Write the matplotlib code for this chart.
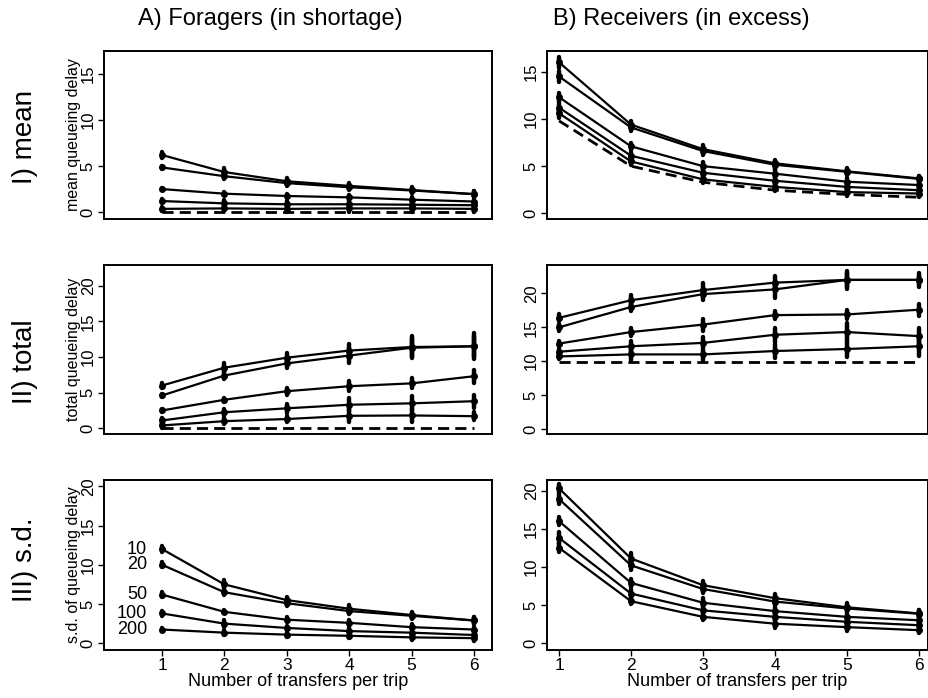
import matplotlib
matplotlib.use('Agg')
import matplotlib.pyplot as plt
import numpy as np

plt.rcParams['font.family'] = ['Liberation Sans', 'DejaVu Sans']

# transfers per trip and group sizes
transfers = [1, 2, 3, 4, 5, 6]
groups = ['10', '20', '50', '100', '200']

# A) foragers
fora_mean = [[6.2, 4.35, 3.35, 2.85, 2.4, 1.95],
             [4.85, 3.9, 3.15, 2.7, 2.35, 1.95],
             [2.5, 2.0, 1.75, 1.6, 1.35, 1.15],
             [1.2, 0.95, 0.85, 0.85, 0.8, 0.75],
             [0.35, 0.4, 0.35, 0.4, 0.4, 0.35]]
fora_mean_base = [0.05, 0.05, 0.05, 0.05, 0.05, 0.05]
fora_mean_rng = [[0.3, 0.4, 0.35, 0.35, 0.35, 0.35],
                 [0.15, 0.3, 0.3, 0.3, 0.3, 0.3],
                 [0.15, 0.15, 0.25, 0.3, 0.3, 0.3],
                 [0.2, 0.35, 0.4, 0.5, 0.5, 0.4],
                 [0.25, 0.3, 0.35, 0.4, 0.4, 0.3]]

fora_total = [[6.0, 8.5, 9.9, 10.9, 11.4, 11.5],
              [4.6, 7.4, 9.1, 10.2, 11.3, 11.5],
              [2.5, 4.0, 5.2, 5.9, 6.3, 7.3],
              [1.1, 2.25, 2.8, 3.3, 3.5, 3.8],
              [0.4, 1.0, 1.3, 1.75, 1.8, 1.7]]
fora_total_base = [0.1, 0.1, 0.1, 0.1, 0.1, 0.1]
fora_total_rng = [[0.3, 0.6, 0.7, 0.9, 1.6, 1.8],
                  [0.2, 0.5, 0.7, 1.0, 1.3, 1.5],
                  [0.2, 0.3, 0.5, 0.7, 0.7, 0.9],
                  [0.3, 0.5, 0.6, 0.9, 1.0, 0.9],
                  [0.3, 0.4, 0.4, 0.9, 0.9, 0.6]]

fora_sd = [[12.0, 7.5, 5.5, 4.4, 3.6, 2.9],
           [10.0, 6.5, 5.1, 4.1, 3.5, 2.9],
           [6.2, 4.0, 3.0, 2.6, 2.05, 1.75],
           [3.8, 2.5, 1.95, 1.55, 1.35, 1.05],
           [1.75, 1.35, 1.1, 0.95, 0.75, 0.65]]
fora_sd_rng = [[0.4, 0.5, 0.4, 0.5, 0.4, 0.4],
               [0.3, 0.4, 0.3, 0.4, 0.4, 0.4],
               [0.3, 0.2, 0.3, 0.4, 0.4, 0.3],
               [0.3, 0.4, 0.3, 0.4, 0.4, 0.3],
               [0.2, 0.3, 0.3, 0.3, 0.3, 0.3]]

# B) receivers
recv_mean = [[16.0, 9.4, 6.8, 5.3, 4.45, 3.7],
             [14.5, 9.1, 6.6, 5.15, 4.4, 3.65],
             [12.3, 7.1, 5.0, 4.2, 3.35, 3.0],
             [11.2, 6.1, 4.3, 3.45, 2.8, 2.45],
             [10.6, 5.5, 3.6, 2.8, 2.25, 2.1]]
recv_mean_base = [9.8, 5.0, 3.3, 2.45, 2.0, 1.7]
recv_mean_rng = [[0.6, 0.4, 0.4, 0.4, 0.4, 0.3],
                 [0.6, 0.4, 0.4, 0.4, 0.3, 0.3],
                 [0.5, 0.4, 0.4, 0.5, 0.4, 0.3],
                 [0.5, 0.4, 0.5, 0.5, 0.4, 0.4],
                 [0.5, 0.4, 0.4, 0.4, 0.4, 0.4]]

recv_total = [[16.4, 19.0, 20.5, 21.6, 22.0, 22.0],
              [15.0, 18.0, 19.9, 20.6, 22.0, 22.0],
              [12.6, 14.3, 15.4, 16.8, 16.9, 17.6],
              [11.4, 12.2, 12.7, 13.9, 14.3, 13.7],
              [10.7, 11.0, 11.0, 11.5, 11.8, 12.2]]
recv_total_base = [9.9, 9.9, 9.9, 9.9, 9.9, 9.9]
recv_total_rng = [[0.5, 0.8, 1.0, 1.0, 1.3, 0.6],
                  [0.5, 0.6, 0.8, 1.2, 1.0, 1.0],
                  [0.4, 0.6, 0.9, 0.6, 0.6, 0.9],
                  [0.4, 0.8, 0.8, 1.0, 1.3, 1.2],
                  [0.4, 0.8, 0.8, 1.0, 1.2, 1.4]]

recv_sd = [[20.3, 11.1, 7.6, 5.9, 4.7, 3.9],
           [18.9, 10.2, 7.1, 5.45, 4.55, 3.85],
           [16.0, 7.9, 5.3, 4.2, 3.45, 3.0],
           [13.8, 6.5, 4.3, 3.45, 2.8, 2.35],
           [12.5, 5.5, 3.45, 2.55, 2.1, 1.7]]
recv_sd_rng = [[0.6, 0.7, 0.5, 0.5, 0.5, 0.5],
               [0.6, 0.6, 0.5, 0.5, 0.4, 0.5],
               [0.5, 0.5, 0.6, 0.5, 0.5, 0.5],
               [0.8, 0.6, 0.5, 0.6, 0.5, 0.5],
               [0.6, 0.4, 0.4, 0.5, 0.5, 0.4]]

W, H = 929, 698
fig = plt.figure(figsize=(W / 100, H / 100), dpi=100)


def px_axes(l, t, r, b):
    return fig.add_axes([l / W, 1 - b / H, (r - l) / W, (b - t) / H])


def draw(ax, series, rng, base=None):
    x = np.array(transfers)
    for vals, r in zip(series, rng):
        v = np.array(vals)
        r = np.array(r)
        ax.plot(x, v, color='black', lw=1.6, zorder=3)
        ax.vlines(x, v - r, v + r, color='black', lw=3.2, capstyle='round', zorder=4)
        ax.plot(x, v, 'o', color='black', ms=4, zorder=5)
    if base is not None:
        ax.plot(x, base, color='black', lw=2, dashes=(4, 2.2), zorder=3)


def style(ax, xlim, ylim, yticks, bottom_row):
    ax.set_xlim(*xlim)
    ax.set_ylim(*ylim)
    ax.set_yticks(yticks)
    ax.tick_params(axis='y', direction='out', length=4, width=1, labelsize=12,
                   labelrotation=90, pad=2)
    for lab in ax.get_yticklabels():
        lab.set_va('center')
    if bottom_row:
        ax.set_xticks(transfers)
        ax.tick_params(axis='x', direction='out', length=4, width=1, labelsize=12.5, pad=2)
        ax.set_xlabel('Number of transfers per trip', fontsize=13, labelpad=0)
    else:
        ax.set_xticks([])
    for s in ax.spines.values():
        s.set_linewidth(1.4)


rows = [(51, 219), (265, 434), (480, 650)]
colA = (104, 492)
colB = (547, 928)
xlimA = (0.07, 6.29)
xlimB = (0.833, 6.125)

# row I: mean
ax = px_axes(colA[0], rows[0][0], colA[1], rows[0][1])
draw(ax, fora_mean, fora_mean_rng, fora_mean_base)
style(ax, xlimA, (-0.75, 17.5), [0, 5, 10, 15], False)
ax.set_ylabel('mean queueing delay', fontsize=11.5, labelpad=0)

ax = px_axes(colB[0], rows[0][0], colB[1], rows[0][1])
draw(ax, recv_mean, recv_mean_rng, recv_mean_base)
style(ax, xlimB, (-0.6, 17.2), [0, 5, 10, 15], False)

# row II: total
ax = px_axes(colA[0], rows[1][0], colA[1], rows[1][1])
draw(ax, fora_total, fora_total_rng, fora_total_base)
style(ax, xlimA, (-0.8, 22.9), [0, 5, 10, 15, 20], False)
ax.set_ylabel('total queueing delay', fontsize=11.5, labelpad=0)

ax = px_axes(colB[0], rows[1][0], colB[1], rows[1][1])
draw(ax, recv_total, recv_total_rng, recv_total_base)
style(ax, xlimB, (-0.75, 24.2), [0, 5, 10, 15, 20], False)

# row III: s.d.
ax = px_axes(colA[0], rows[2][0], colA[1], rows[2][1])
draw(ax, fora_sd, fora_sd_rng)
style(ax, xlimA, (-0.86, 20.8), [0, 5, 10, 15, 20], True)
ax.set_ylabel('s.d. of queueing delay', fontsize=11.5, labelpad=0)
for name, vals in zip(groups, fora_sd):
    ax.text(0.76, vals[0], name, ha='right', va='center', fontsize=13)

ax = px_axes(colB[0], rows[2][0], colB[1], rows[2][1])
draw(ax, recv_sd, recv_sd_rng)
style(ax, xlimB, (-0.9, 21.4), [0, 5, 10, 15, 20], True)

# column and row headings
fig.text(270 / W, 1 - 19 / H, 'A) Foragers (in shortage)', fontsize=17, ha='center', va='center')
fig.text(681 / W, 1 - 19 / H, 'B) Receivers (in excess)', fontsize=17, ha='center', va='center')
fig.text(25 / W, 1 - 137 / H, 'I) mean', fontsize=20, rotation=90, ha='center', va='center')
fig.text(25 / W, 1 - 362 / H, 'II) total', fontsize=20, rotation=90, ha='center', va='center')
fig.text(25 / W, 1 - 560 / H, 'III) s.d.', fontsize=20, rotation=90, ha='center', va='center')

fig.savefig('out.png', dpi=100)
plt.close(fig)
